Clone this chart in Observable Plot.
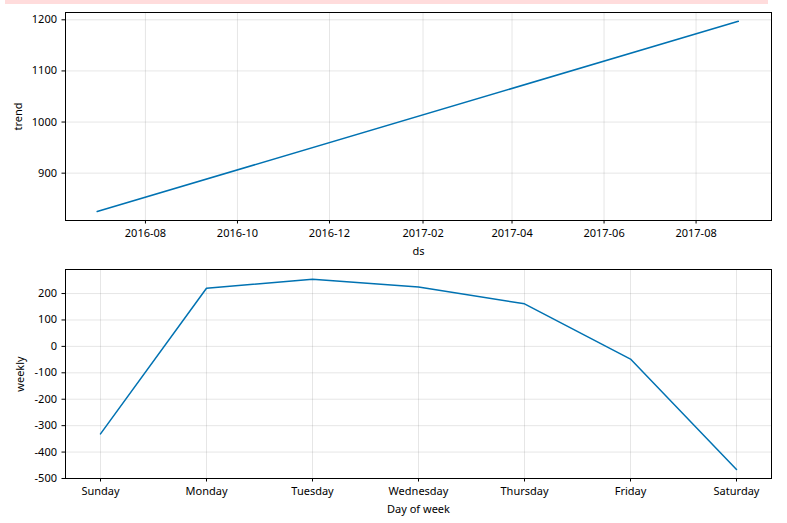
<!DOCTYPE html>
<html>
<head>
<meta charset="utf-8">
<script src="https://cdn.jsdelivr.net/npm/d3@7"></script>
<script src="https://cdn.jsdelivr.net/npm/@observablehq/plot@0.6"></script>
<style>
  body { margin: 0; background: white; }
  #strip { margin-left: 5px; width: 763px; height: 4px; background: #ffdcdc; }
  #chart svg { display: block; }
</style>
</head>
<body>
<div id="strip"></div>
<div id="chart"></div>
<script>
// ---- data ----
const trendDates = ["2016-06-30", "2017-08-29"];
const trendValues = [825, 1197];
const dateTickLabels = ["2016-08-01", "2016-10-01", "2016-12-01", "2017-02-01", "2017-04-01", "2017-06-01", "2017-08-01"];
const trendTicks = [900, 1000, 1100, 1200];

const weekDays = ["Sunday", "Monday", "Tuesday", "Wednesday", "Thursday", "Friday", "Saturday"];
const weeklyValues = [-331, 220, 254, 225, 161, -48, -466];
const weeklyTicks = [-500, -400, -300, -200, -100, 0, 100, 200];

const trendData = trendDates.map((d, i) => ({ds: new Date(d), trend: trendValues[i]}));
const weeklyData = weekDays.map((d, i) => ({day: d, weekly: weeklyValues[i]}));
const dateTicks = dateTickLabels.map(d => new Date(d));

const font = "'Noto Sans', 'Open Sans', sans-serif";
const lineColor = "#0072B2";
const gridStyle = {stroke: "gray", strokeOpacity: 0.2, strokeWidth: 1};
const plain = d => String(d);

const trendChart = Plot.plot({
  width: 787, height: 252,
  marginLeft: 65, marginRight: 16, marginTop: 8, marginBottom: 36,
  style: {fontFamily: font, fontSize: "11px", color: "black", background: "white"},
  x: {type: "utc", domain: [new Date("2016-06-09"), new Date("2017-09-20")]},
  y: {domain: [807.4, 1214.3]},
  marks: [
    Plot.gridX(dateTicks, gridStyle),
    Plot.gridY(trendTicks, gridStyle),
    Plot.frame({stroke: "black", strokeWidth: 1}),
    Plot.axisX(dateTicks, {tickSize: 3.5, tickPadding: 5, tickFormat: d3.utcFormat("%Y-%m"),
      label: "ds", labelAnchor: "center", labelArrow: "none", labelOffset: 34}),
    Plot.axisY(trendTicks, {tickSize: 3.5, tickPadding: 5, tickFormat: plain,
      label: "trend", labelAnchor: "center", labelArrow: "none", labelOffset: 51}),
    Plot.line(trendData, {x: "ds", y: "trend", stroke: lineColor, strokeWidth: 1.5})
  ]
});

const weeklyChart = Plot.plot({
  width: 787, height: 267,
  marginLeft: 65, marginRight: 16, marginTop: 13, marginBottom: 45,
  style: {fontFamily: font, fontSize: "11px", color: "black", background: "white"},
  x: {type: "point", domain: weekDays, padding: 0.3},
  y: {domain: [-500, 291]},
  marks: [
    Plot.gridX(weekDays, gridStyle),
    Plot.gridY(weeklyTicks, gridStyle),
    Plot.frame({stroke: "black", strokeWidth: 1}),
    Plot.axisX(weekDays, {tickSize: 3.5, tickPadding: 5,
      label: "Day of week", labelAnchor: "center", labelArrow: "none", labelOffset: 34}),
    Plot.axisY(weeklyTicks, {tickSize: 3.5, tickPadding: 5, tickFormat: plain,
      label: "weekly", labelAnchor: "center", labelArrow: "none", labelOffset: 49}),
    Plot.line(weeklyData, {x: "day", y: "weekly", stroke: lineColor, strokeWidth: 1.5})
  ]
});

document.getElementById("chart").append(trendChart, weeklyChart);
</script>
</body>
</html>
